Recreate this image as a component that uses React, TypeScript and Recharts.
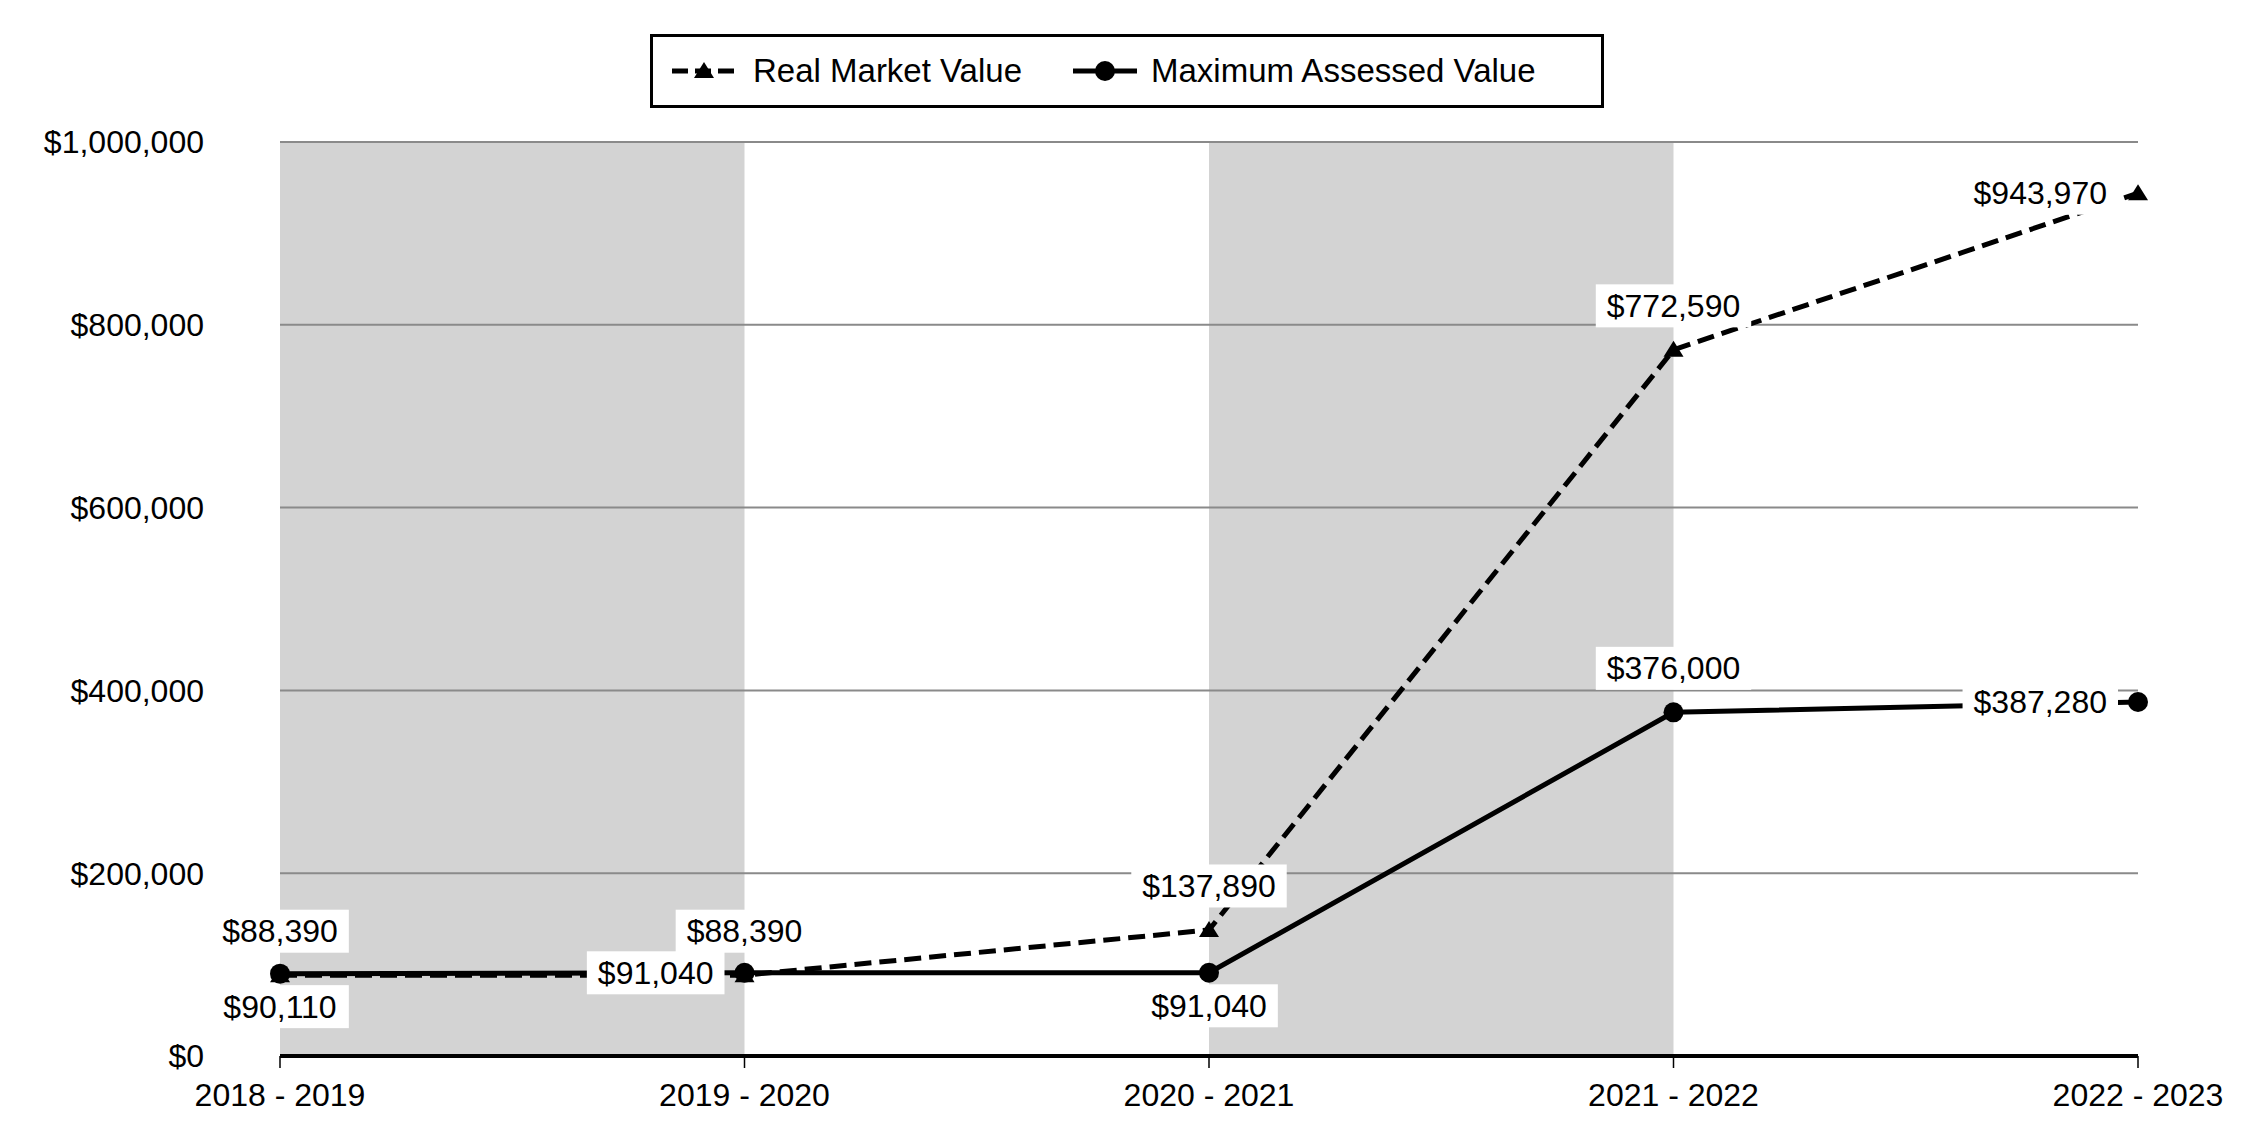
import React from "react";
import {
  LineChart,
  Line,
  XAxis,
  YAxis,
  CartesianGrid,
  ReferenceArea,
  Legend,
  LabelList,
} from "recharts";

const years = ["2018 - 2019", "2019 - 2020", "2020 - 2021", "2021 - 2022", "2022 - 2023"];
const realMarketValue = [88390, 88390, 137890, 772590, 943970];
const maxAssessedValue = [90110, 91040, 91040, 376000, 387280];
const yTicks = [0, 200000, 400000, 600000, 800000, 1000000];
const shadedBands = [
  ["2018 - 2019", "2019 - 2020"],
  ["2020 - 2021", "2021 - 2022"],
];

// where each value label sits relative to its point
const rmvLabelSide = ["top", "top", "top", "top", "left"];
const mavLabelSide = ["bottom", "left", "bottom", "top", "left"];

const data = years.map((year, i) => ({
  year,
  rmv: realMarketValue[i],
  mav: maxAssessedValue[i],
}));

const FONT = '"Liberation Sans", Arial, sans-serif';
const FS = 32;

const money = (v: number) => "$" + v.toLocaleString("en-US");

// rough Arial widths, good enough for sizing the white boxes
const textWidth = (s: string) =>
  s.split("").reduce((w, c) => w + (c === "," ? 0.278 : 0.556), 0) * FS;

function BoxLabel(props: any) {
  const { x, y, value, index, sides } = props;
  if (x == null || y == null) return null;
  const text = money(Number(value));
  const w = textWidth(text) + 22;
  const h = 43;
  const side = sides[index];
  let cx = x;
  let cy = y;
  if (side === "top") cy = y - 44;
  if (side === "bottom") cy = y + 33;
  if (side === "left") cx = x - 20 - w / 2;
  return (
    <g>
      <rect x={cx - w / 2} y={cy - h / 2} width={w} height={h} fill="#fff" />
      <text
        x={cx}
        y={cy}
        textAnchor="middle"
        dominantBaseline="central"
        fontFamily={FONT}
        fontSize={FS}
        fill="#000"
      >
        {text}
      </text>
    </g>
  );
}

function TriangleDot(props: any) {
  const { cx, cy } = props;
  if (cx == null || cy == null) return null;
  return (
    <path
      d={`M${cx},${cy - 9} L${cx + 10},${cy + 7} L${cx - 10},${cy + 7} Z`}
      fill="#000"
    />
  );
}

function CircleDot(props: any) {
  const { cx, cy } = props;
  if (cx == null || cy == null) return null;
  return <circle cx={cx} cy={cy} r={10} fill="#000" />;
}

function renderLegend() {
  return (
    <div
      style={{
        boxSizing: "border-box",
        width: 954,
        height: 74,
        border: "3px solid #000",
        background: "#fff",
        display: "flex",
        alignItems: "center",
        paddingLeft: 19,
        fontFamily: FONT,
        fontSize: 33,
        color: "#000",
        whiteSpace: "nowrap",
      }}
    >
      <svg width={64} height={24} style={{ marginRight: 17 }}>
        <line x1={0} y1={12} x2={64} y2={12} stroke="#000" strokeWidth={5} strokeDasharray="16 7" />
        <path d="M32,3 L42,19 L22,19 Z" fill="#000" />
      </svg>
      <span>Real Market Value</span>
      <svg width={64} height={24} style={{ marginLeft: 51, marginRight: 14 }}>
        <line x1={0} y1={12} x2={64} y2={12} stroke="#000" strokeWidth={5} />
        <circle cx={32} cy={12} r={10} fill="#000" />
      </svg>
      <span>Maximum Assessed Value</span>
    </div>
  );
}

export default function App() {
  return (
    <div
      style={{
        position: "absolute",
        left: 0,
        top: 0,
        width: 2250,
        height: 1140,
        background: "#fff",
      }}
    >
      <LineChart
        width={2250}
        height={1140}
        data={data}
        margin={{ top: 142, right: 112, bottom: 24, left: 80 }}
      >
        {shadedBands.map(([a, b]) => (
          <ReferenceArea
            key={a}
            x1={a}
            x2={b}
            fill="#d3d3d3"
            fillOpacity={1}
            stroke="none"
            zIndex={-200}
          />
        ))}
        <CartesianGrid vertical={false} stroke="#8a8a8a" strokeWidth={2} />
        <XAxis
          dataKey="year"
          interval={0}
          axisLine={{ stroke: "#000", strokeWidth: 4 }}
          tickLine={{ stroke: "#000", strokeWidth: 1.5 }}
          tickSize={12}
          tickMargin={15}
          height={60}
          tick={{ fill: "#000", fontSize: FS, fontFamily: FONT }}
        />
        <YAxis
          domain={[0, 1000000]}
          ticks={yTicks}
          interval={0}
          axisLine={false}
          tickLine={false}
          tickSize={6}
          tickMargin={70}
          width={200}
          tickFormatter={money}
          tick={{ fill: "#000", fontSize: FS, fontFamily: FONT }}
        />
        <Legend
          content={renderLegend}
          layout="horizontal"
          verticalAlign="middle"
          align="center"
          wrapperStyle={{ top: 34, left: 650, width: 954, height: 74 }}
        />
        <Line
          type="linear"
          dataKey="rmv"
          name="Real Market Value"
          stroke="#000"
          strokeWidth={5}
          strokeDasharray="17 8"
          dot={(p: any) => <TriangleDot key={`t-${p.index}`} {...p} />}
          activeDot={false}
          isAnimationActive={false}
        >
          <LabelList
            dataKey="rmv"
            content={(p: any) => <BoxLabel {...p} sides={rmvLabelSide} />}
          />
        </Line>
        <Line
          type="linear"
          dataKey="mav"
          name="Maximum Assessed Value"
          stroke="#000"
          strokeWidth={5}
          dot={(p: any) => <CircleDot key={`c-${p.index}`} {...p} />}
          activeDot={false}
          isAnimationActive={false}
        >
          <LabelList
            dataKey="mav"
            content={(p: any) => <BoxLabel {...p} sides={mavLabelSide} />}
          />
        </Line>
      </LineChart>
    </div>
  );
}
